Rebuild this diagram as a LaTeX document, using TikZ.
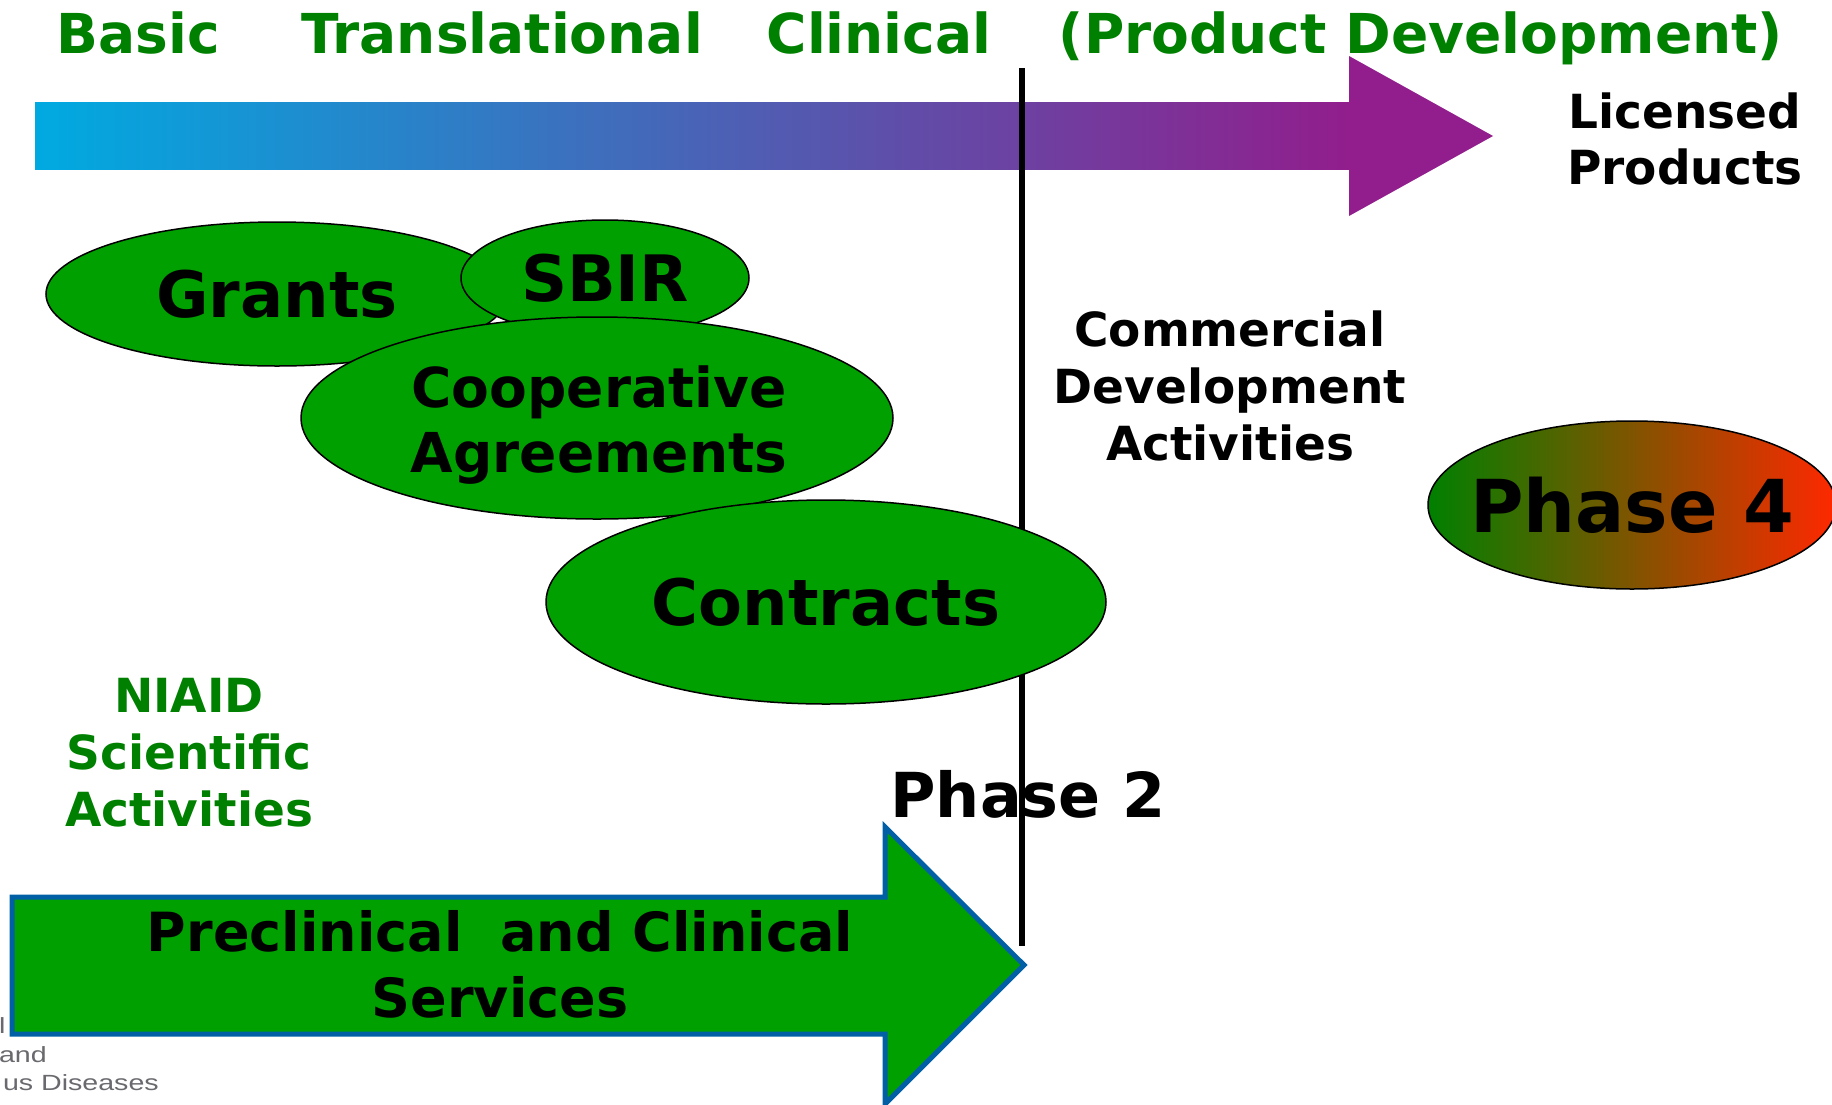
\documentclass[tikz,border=0pt]{standalone}
\usepackage{fontspec}
\setmainfont{DejaVu Sans}
\newfontfamily\footfont{Liberation Sans}
\usetikzlibrary{shapes.geometric}
\definecolor{hdgreen}{RGB}{0,128,0}
\definecolor{ovgreen}{RGB}{0,160,0}
\definecolor{arcyan}{RGB}{0,170,225}
\definecolor{arpurple}{RGB}{145,30,140}
\definecolor{arblue}{RGB}{0,95,165}
\definecolor{pfred}{RGB}{255,40,0}
\definecolor{pfgreen}{RGB}{0,128,0}
\definecolor{footgray}{RGB}{105,105,110}
\newcommand{\fs}[2]{\bfseries\fontsize{#1}{#2}\selectfont}
\begin{document}
\begin{tikzpicture}[x=1pt,y=-1pt,
  oval/.style={ellipse, draw=black, line width=1.5pt, fill=ovgreen, inner sep=0pt, align=center},
  hdlabel/.style={text=hdgreen, font=\fs{55}{62}, inner sep=0pt, anchor=base},
  blacklabel/.style={text=black, align=center, inner sep=0pt},
  foot/.style={text=footgray, font=\footfont\fontsize{22}{26}\selectfont, inner sep=0pt}]
\useasboundingbox (0,0) rectangle (1832,1104);
\clip (0,0) rectangle (1832,1104);

% top gradient arrow
\shade[left color=arcyan, right color=arpurple] (35,102) rectangle (1350,169);
\fill[arpurple] (1349,102) -- (1349,56) -- (1493,136) -- (1349,216) -- (1349,169) -- cycle;

% header labels
\node[hdlabel] (basic) at (138,53) {Basic};
\node[hdlabel] (trans) at (502,53) {Translational};
\node[hdlabel] (clin) at (879,53) {Clinical};
\node[hdlabel] (prod) at (1421,53) {(Product Development)};

\node[blacklabel, font=\fs{47}{56}] (lic) at (1685,139) {Licensed\\Products};
\node[blacklabel, font=\fs{47}{57}] (comm) at (1230,386) {Commercial\\Development\\Activities};
\node[blacklabel, text=hdgreen, font=\fs{47}{57}] (niaid) at (189,753) {NIAID\\Scientific\\Activities};

% ovals
\node[oval, minimum width=462, minimum height=144, font=\fs{64}{72}] (grants) at (277,294) {Grants};
\node[oval, minimum width=288, minimum height=116, font=\fs{64}{72}] (sbir) at (605,278) {SBIR};
\node[oval, minimum width=592, minimum height=202] (coop) at (597,418) {};
\node[blacklabel, font=\fs{55}{65}] (coopt) at (599,425) {Cooperative\\Agreements};

\node[blacklabel, font=\fs{62}{70}] (ph2) at (1028,794) {Phase 2};

% divider line
\coordinate (vt) at (1022,68);
\coordinate (vb) at (1022,946);
\draw[line width=6pt] (vt) -- (vb);

\node[oval, minimum width=560, minimum height=204, font=\fs{64}{72}] (contracts) at (826,602) {Contracts};

% phase 4
\node[ellipse, draw=black, line width=1.5pt, left color=pfgreen, right color=pfred, inner sep=0pt,
  minimum width=408, minimum height=168] (ph4) at (1632,505) {};
\node[blacklabel, font=\fs{73}{80}] (ph4t) at (ph4.center) {Phase 4};

% green block arrow
\draw[fill=ovgreen, draw=arblue, line width=5pt, line join=miter]
  (12,897) -- (885,897) -- (885,827) -- (1024,965) -- (885,1104) -- (885,1034) -- (12,1034) -- cycle;
\node[blacklabel, font=\fs{54}{66}] (precl) at (500,964) {Preclinical~~and Clinical\\Services};

% footer fragments
\node[foot, anchor=base west] (f1) at (-1,1033) {\scalebox{1.3}[1]{l}};
\node[foot, anchor=base east] (f2) at (47,1062) {\scalebox{1.3}[1]{and}};
\node[foot, anchor=base east] (f3) at (159,1090) {\scalebox{1.3}[1]{us Diseases}};
\end{tikzpicture}
\end{document}
